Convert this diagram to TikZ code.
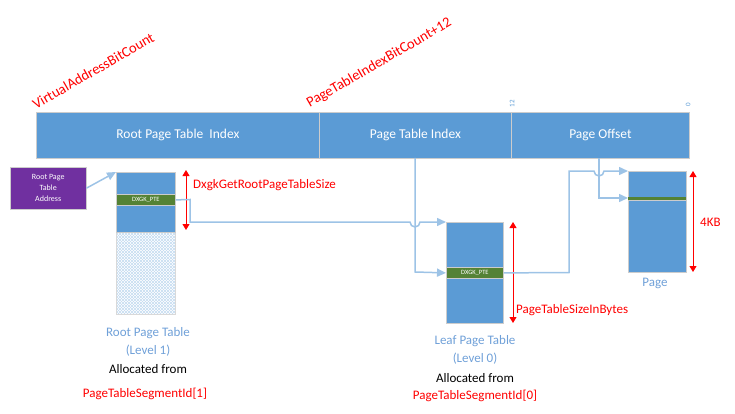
\documentclass[tikz,border=0pt]{standalone}
\usepackage{fontspec}
\setmainfont{Carlito}
\usetikzlibrary{patterns,arrows.meta}
\definecolor{bl}{HTML}{5B9BD5}
\definecolor{gr}{HTML}{548235}
\definecolor{pu}{HTML}{7030A0}
\definecolor{lb}{HTML}{6FA0D8}
\definecolor{ln}{HTML}{9DC3E6}
\begin{document}
\begin{tikzpicture}[x=1pt,y=-1pt,
  blk/.style={fill=bl,draw=gray!40,line width=0.8pt},
  pte/.style={fill=gr,draw=gray!40,line width=0.8pt,text=white,font=\fontsize{6.5}{7}\selectfont,inner sep=0pt},
  tip/.style={-{Triangle[length=9pt,width=8pt]},draw=ln,line width=1.5pt,color=ln},
  dim/.style={{Triangle[length=6pt,width=7pt]}-{Triangle[length=6pt,width=7pt]},red,line width=1pt},
  rlab/.style={text=red,font=\fontsize{13}{15}\selectfont},
  caplab/.style={text=lb,font=\fontsize{13}{15}\selectfont,inner sep=0pt},
  blk2/.style={font=\fontsize{13}{15}\selectfont,inner sep=0pt}]
\useasboundingbox (0,0) rectangle (735,414);
% top bar
\node[blk,minimum width=283,minimum height=46,anchor=north west,text=white,font=\fontsize{13.5}{15}\selectfont,inner sep=0pt] (rpi) at (36,112) {Root Page Table\ \ Index};
\node[blk,minimum width=192,minimum height=46,anchor=north west,text=white,font=\fontsize{13.5}{15}\selectfont,inner sep=0pt] (pti) at (319,112) {Page Table Index};
\node[blk,minimum width=178,minimum height=46,anchor=north west,text=white,font=\fontsize{13.5}{15}\selectfont,inner sep=0pt] (po) at (511,112) {Page Offset};
\node[rotate=90,text=bl,font=\fontsize{7}{8}\selectfont,inner sep=0pt] (b12) at (512,104) {12};
\node[rotate=90,text=bl,font=\fontsize{7}{8}\selectfont,inner sep=0pt] (b0) at (688,105) {0};
\node[rlab,rotate=30,anchor=south west,inner sep=0pt,font=\fontsize{14.5}{16}\selectfont] (vab) at (36,110) {VirtualAddressBitCount};
\node[rlab,rotate=30,anchor=south west,inner sep=0pt,font=\fontsize{14.5}{16}\selectfont] (ptb) at (311,110) {PageTableIndexBitCount+12};
% root address
\node[fill=pu,draw=gray!40,minimum width=76,minimum height=42,anchor=north west,text=white,align=center,font=\fontsize{8}{11}\selectfont,inner sep=0pt] (rpa) at (10,167) {Root Page\\Table\\Address};
% root table
\fill[pattern=north east lines,pattern color=ln!60] (116,232) rectangle (175,314);
\fill[pattern=north west lines,pattern color=ln!60] (116,232) rectangle (175,314);
\draw[gray!30] (116,232) rectangle (175,314);
\node[blk,minimum width=59,minimum height=60,anchor=north west,inner sep=0pt] (rt) at (116,172) {};
\node[pte,minimum width=59,minimum height=11,anchor=north west] (rpte) at (116,194) {DXGK\_PTE};
\draw[dim] (186,170) -- (186,230);
\node[rlab,anchor=west,inner sep=0pt] (rts) at (193,185) {DxgkGetRootPageTableSize};
% leaf table
\node[blk,minimum width=57,minimum height=101,anchor=north west,inner sep=0pt] (lt) at (446,222) {};
\node[pte,minimum width=57,minimum height=11,anchor=north west] (lpte) at (446,267) {DXGK\_PTE};
\draw[dim] (513,222) -- (513,323);
\node[rlab,anchor=west,inner sep=0pt] (pts) at (516,310) {PageTableSizeInBytes};
% page
\node[blk,minimum width=58,minimum height=101,anchor=north west,inner sep=0pt] (pg) at (628,171) {};
\fill[gr] (628,197) rectangle (686,200);
\draw[gray!40] (628,200.5) -- (686,200.5);
\draw[dim] (693,171) -- (693,272);
\node[rlab,anchor=west,inner sep=0pt] (kb) at (700,222) {4KB};
\node[caplab] (pgl) at (655,283) {Page};
% connectors
\draw[tip] (rpa.east) -- (116,172);
\draw[tip] (rpte.east) -- (190,199.5) -- (190,222) -- (410,222) arc[start angle=180,end angle=0,radius=5] -- (lt.north west);
\draw[tip] (415,158) -- (415,272) -- (lpte.west);
\draw[tip] (lpte.east) -- (569,272.5) -- (569,171) -- (594,171) arc[start angle=180,end angle=0,radius=5] -- (pg.north west);
\draw[tip] (599,158) -- (599,198) -- (628,198);
% captions
\node[caplab] (rc1) at (148,333) {Root Page Table};
\node[caplab] (rc2) at (148,351) {(Level 1)};
\node[blk2] (rc3) at (148,369) {Allocated from};
\node[rlab,inner sep=0pt] (rc4) at (145,394) {PageTableSegmentId[1]};
\node[caplab] (lc1) at (475,341) {Leaf Page Table};
\node[caplab] (lc2) at (475,359) {(Level 0)};
\node[blk2] (lc3) at (475,378) {Allocated from};
\node[rlab,inner sep=0pt] (lc4) at (475,396) {PageTableSegmentId[0]};
\end{tikzpicture}
\end{document}
